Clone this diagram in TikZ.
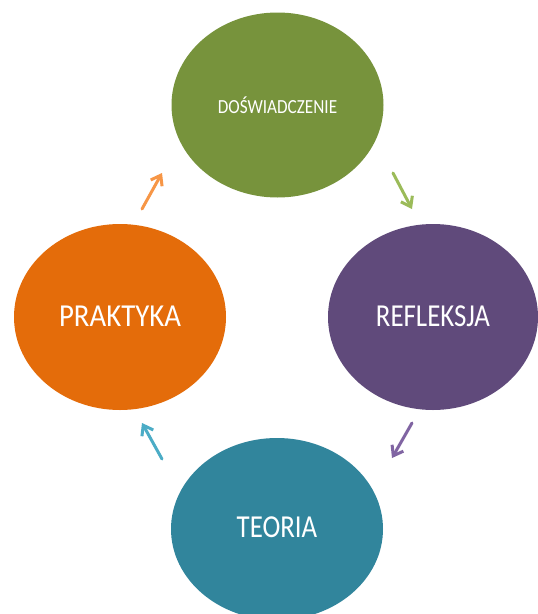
\documentclass[tikz,border=0pt]{standalone}
\usepackage{fontspec}
\setmainfont{Carlito}
\usetikzlibrary{shapes.geometric,arrows.meta}
\definecolor{cgreen}{HTML}{77933C}
\definecolor{cpurple}{HTML}{604A7B}
\definecolor{cteal}{HTML}{31859C}
\definecolor{corange}{HTML}{E46C0A}
\definecolor{agreen}{HTML}{9BBB59}
\definecolor{apurple}{HTML}{8064A2}
\definecolor{ateal}{HTML}{4BACC6}
\definecolor{aorange}{HTML}{F79646}
\tikzset{
  blob/.style={ellipse, inner sep=0pt, minimum width=212pt, minimum height=185pt, text=white},
  bigtxt/.style={font=\fontsize{32}{32}\selectfont},
  smalltxt/.style={font=\fontsize{20}{20}\selectfont},
  cyclearrow/.style={line width=3pt, -{Straight Barb[length=9pt,width=13pt,line width=3pt]}, line cap=round}
}
\newcommand{\sq}[1]{\scalebox{0.86}[1]{#1}}
\begin{document}
\begin{tikzpicture}[x=1pt,y=-1pt]
\fill[white] (0,0) rectangle (538,614);
\useasboundingbox (0,0) rectangle (538,614);
\begin{scope}
\clip (0,0) rectangle (538,614);
\node[blob, fill=cgreen, smalltxt] (dos) at (277.5,105) {\sq{DOŚWIADCZENIE}};
\node[blob, fill=cpurple, bigtxt, minimum width=210pt, minimum height=186pt] (ref) at (433,317) {\raisebox{2pt}{\scalebox{0.84}[1]{REFLEKSJA}}};
\node[blob, fill=corange, bigtxt, minimum height=186pt] (pra) at (120,317) {\raisebox{2pt}{\scalebox{0.9}[1]{PRAKTYKA}}};
\node[blob, fill=cteal, bigtxt, minimum height=182pt] (teo) at (277,529) {\raisebox{3pt}{\scalebox{0.84}[1]{TEORIA}}};
\end{scope}
\coordinate (g1) at (393,173); \coordinate (g2) at (412,209);
\coordinate (p1) at (412,423); \coordinate (p2) at (392,458);
\coordinate (t1) at (162,459); \coordinate (t2) at (142,423);
\coordinate (o1) at (142,209); \coordinate (o2) at (162,173);
\draw[cyclearrow, agreen] (g1) -- (g2);
\draw[cyclearrow, apurple] (p1) -- (p2);
\draw[cyclearrow, ateal] (t1) -- (t2);
\draw[cyclearrow, aorange] (o1) -- (o2);
\end{tikzpicture}
\end{document}
